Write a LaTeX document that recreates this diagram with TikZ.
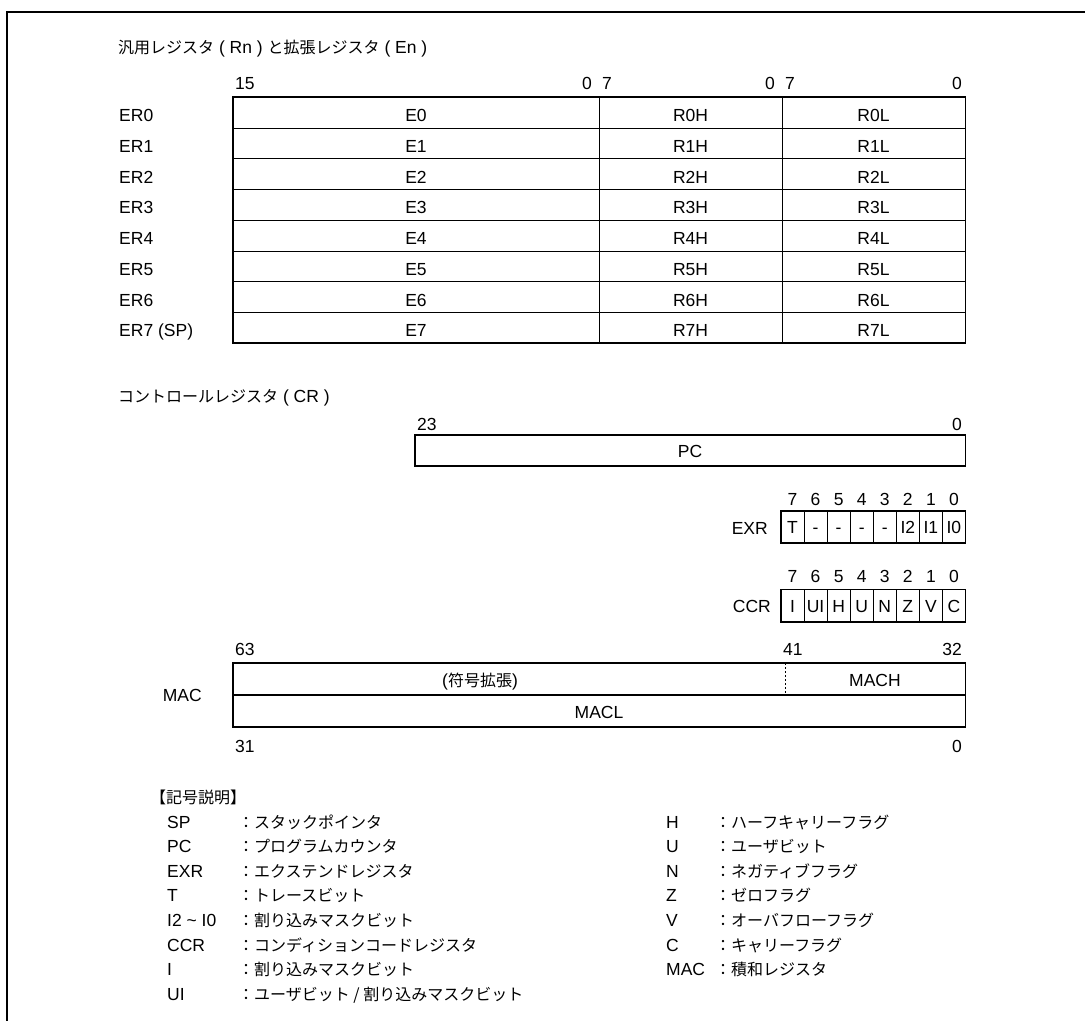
\documentclass[tikz,border=0pt]{standalone}
\usepackage{fontspec}
\setmainfont{Liberation Sans}
\newfontfamily\jpfam{Noto Sans CJK JP}
\newcommand\jp{\jpfam\fontsize{16}{18}\selectfont}
\usepackage{tikz}

\begin{document}
\begin{tikzpicture}[x=1pt,y=-1pt,font=\fontsize{17.5}{21}\selectfont,
  txt/.style={inner sep=0pt},
  outer/.style={line width=1.7pt},
  inner/.style={line width=0.8pt}]
\useasboundingbox (0,0) rectangle (1085,1021);
\draw[line width=2pt] (1085,12) -- (7,12) -- (7,1021);
\node[txt,anchor=base west] (gtitle) at (118,53) {{\jp 汎用レジスタ} ( Rn ) {\jp と拡張レジスタ} ( En )};
\foreach \n/\t/\x/\a in {b15/15/235/west, b0a/0/592/east, b7a/7/602/west, b0b/0/775/east, b7b/7/785/west, b0c/0/962/east}
  \node[txt,anchor=base \a] (\n) at (\x,89.5) {\t};
\foreach \i in {1,...,7} \draw[inner] (233,97.3+30.75*\i) -- (965.5,97.3+30.75*\i);
\draw[inner] (599,97.3) -- (599,343.3);
\draw[inner] (782,97.3) -- (782,343.3);
\draw[outer] (233,97.3) rectangle (965.5,343.3);
\foreach \i/\t in {0/ER0,1/ER1,2/ER2,3/ER3,4/ER4,5/ER5,6/ER6,7/ER7 (SP)} {
  \node[txt,anchor=base west] (er\i) at (119,121.5+30.75*\i) {\t};
  \node[txt,anchor=base] (e\i) at (416,121.5+30.75*\i) {E\i};
  \node[txt,anchor=base] (rh\i) at (690.5,121.5+30.75*\i) {R\i H};
  \node[txt,anchor=base] (rl\i) at (873.5,121.5+30.75*\i) {R\i L};
}

\node[txt,anchor=base west] (ctitle) at (118,402) {{\jp コントロールレジスタ} ( CR )};
\node[txt,anchor=base west] (b23) at (417,430) {23};
\node[txt,anchor=base east] (b0pc) at (962,430) {0};
\draw[outer] (415,435) rectangle (965.5,466);
\node[txt,anchor=base] (pc) at (690,457) {PC};

\foreach \k in {1,...,7} {
  \draw[inner] (781+23.06*\k,511) -- (781+23.06*\k,543);
  \draw[inner] (781+23.06*\k,589.5) -- (781+23.06*\k,621.7);
}
\draw[outer] (781,511) rectangle (965.5,543);
\draw[outer] (781,589.5) rectangle (965.5,621.7);
\node[txt,anchor=base east] (exr) at (768,534) {EXR};
\node[txt,anchor=base east] (ccr) at (771,612.5) {CCR};
\foreach \t [count=\k from 0] in {T,-,-,-,-,I2,I1,I0} {
  \pgfmathtruncatemacro\b{7-\k}
  \node[txt,anchor=base] (xb\k) at (792.5+23.06*\k,505.5) {\b};
  \node[txt,anchor=base] (xf\k) at (792.5+23.06*\k,533.5) {\t};
}
\foreach \t [count=\k from 0] in {I,UI,H,U,N,Z,V,C} {
  \pgfmathtruncatemacro\b{7-\k}
  \node[txt,anchor=base] (cb\k) at (792.5+23.06*\k,582) {\b};
  \node[txt,anchor=base] (cf\k) at (792.5+23.06*\k,612.5) {\t};
}

\node[txt,anchor=base west] (b63) at (235,655) {63};
\node[txt,anchor=base west] (b41) at (783,655) {41};
\node[txt,anchor=base east] (b32) at (962,655) {32};
\draw[line width=0.6pt,dash pattern=on 2pt off 2pt] (785,663) -- (785,695);
\draw[outer] (233,663) rectangle (965.5,727);
\draw[outer] (233,695) -- (965.5,695);
\node[txt,anchor=base east] (mac) at (202,701) {MAC};
\node[txt,anchor=base] (sext) at (480,686) {({\jp 符号拡張})};
\node[txt,anchor=base] (mach) at (875,686) {MACH};
\node[txt,anchor=base] (macl) at (599,718) {MACL};
\node[txt,anchor=base west] (b31) at (235,752) {31};
\node[txt,anchor=base east] (b0mac) at (962,752) {0};

\node[txt,anchor=base west] (key) at (150,803) {\jp 【記号説明】};
\foreach \t/\d [count=\i from 0] in {SP/スタックポインタ, PC/プログラムカウンタ, EXR/エクステンドレジスタ, T/トレースビット, I2 \textasciitilde{} I0/割り込みマスクビット, CCR/コンディションコードレジスタ, I/割り込みマスクビット, UI/{ユーザビット / 割り込みマスクビット}} {
  \node[txt,anchor=base west] (ka\i) at (167,828+24.6*\i) {\t};
  \node[txt,anchor=base west] (kd\i) at (238,828+24.6*\i) {\jp ：\d};
}
\foreach \t/\d [count=\i from 0] in {H/ハーフキャリーフラグ, U/ユーザビット, N/ネガティブフラグ, Z/ゼロフラグ, V/オーバフローフラグ, C/キャリーフラグ, MAC/積和レジスタ} {
  \node[txt,anchor=base west] (kb\i) at (666,828+24.6*\i) {\t};
  \node[txt,anchor=base west] (ke\i) at (715,828+24.6*\i) {\jp ：\d};
}
\end{tikzpicture}
\end{document}
